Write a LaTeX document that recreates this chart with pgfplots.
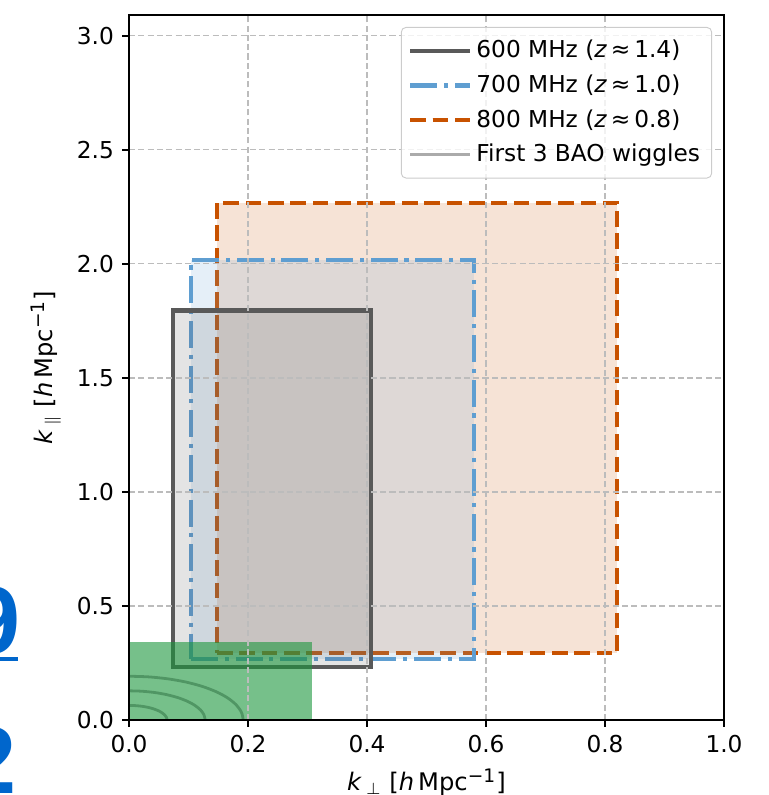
\documentclass[border=0pt]{standalone}
\usepackage{fontspec}
\setmainfont{DejaVu Sans}
\newfontfamily\bluefont{Liberation Sans}
\usepackage{pgfplots}
\pgfplotsset{compat=1.18}

\definecolor{cgray}{HTML}{595959}
\definecolor{cblue}{HTML}{5F9ED1}
\definecolor{corange}{HTML}{C85200}
\definecolor{clgray}{HTML}{ABABAB}
\definecolor{cgreen}{RGB}{27,150,60}
\definecolor{carc}{RGB}{80,150,100}
\definecolor{gridc}{RGB}{188,188,188}
\definecolor{webblue}{RGB}{0,102,204}

\begin{document}
\begin{tikzpicture}[x=0.43pt,y=0.43pt]
\useasboundingbox (-129,-75) rectangle (640,720);
\begin{axis}[
  at={(0,0)}, anchor=south west,
  scale only axis, width=255.85pt, height=303.15pt,
  xmin=0, xmax=1, ymin=0, ymax=3.092,
  xtick={0,0.2,0.4,0.6,0.8,1.0},
  ytick={0,0.5,1,1.5,2,2.5,3},
  /pgf/number format/assume math mode=true,
  xticklabel style={/pgf/number format/fixed, /pgf/number format/fixed zerofill, /pgf/number format/precision=1},
  yticklabel style={/pgf/number format/fixed, /pgf/number format/fixed zerofill, /pgf/number format/precision=1},
  tick label style={font=\fontsize{10}{12}\selectfont},
  label style={font=\fontsize{10.4}{12}\selectfont},
  tick align=outside, tick pos=left,
  major tick length=3pt,
  tick style={black, line width=0.8pt},
  axis line style={black, line width=0.8pt},
  grid=major,
  grid style={gridc, line width=0.45pt, dash pattern=on 2.6pt off 1.4pt},
  axis on top,
  xlabel={\textit{k}\,\textsubscript{$\perp$}\ [\textit{h}\,Mpc\textsuperscript{\fontsize{8}{8}\selectfont −1}]},
  ylabel={\textit{k}\,\textsubscript{$\parallel$}\ [\textit{h}\,Mpc\textsuperscript{\fontsize{8}{8}\selectfont −1}]},
  legend image code/.code={\draw[#1] (0pt,0pt) -- (21pt,0pt); \path (0pt,0pt) -- (25.5pt,0pt);},
  legend cell align=left,
  legend style={at={(0.98,0.983)}, anchor=north east, draw=black!20,
    rounded corners=2pt, fill=white, fill opacity=0.8, text opacity=1,
    font=\fontsize{10}{12}\selectfont, row sep=1.8pt,
    inner xsep=3pt, inner ysep=3.5pt},
]
\addlegendimage{cgray, line width=1.8pt}
\addlegendentry{600 MHz (\textit{z}\,≈\,1.4)}
\addlegendimage{cblue, line width=1.8pt, dash pattern=on 11.6pt off 2.9pt on 1.8pt off 2.9pt}
\addlegendentry{700 MHz (\textit{z}\,≈\,1.0)}
\addlegendimage{corange, line width=1.8pt, dash pattern=on 6.7pt off 2.9pt}
\addlegendentry{800 MHz (\textit{z}\,≈\,0.8)}
\addlegendimage{clgray, line width=1.2pt}
\addlegendentry{First 3 BAO wiggles}

% 800 MHz
\addplot[draw=corange, line width=1.8pt, dash pattern=on 6.7pt off 2.9pt,
  fill=corange, fill opacity=0.16, draw opacity=1, forget plot]
  coordinates {(0.148,0.295) (0.820,0.295) (0.820,2.269) (0.148,2.269)} -- cycle;
% 700 MHz
\addplot[draw=cblue, line width=1.8pt, dash pattern=on 11.6pt off 2.9pt on 1.8pt off 2.9pt,
  fill=cblue, fill opacity=0.16, draw opacity=1, forget plot]
  coordinates {(0.104,0.266) (0.580,0.266) (0.580,2.018) (0.104,2.018)} -- cycle;
% 600 MHz
\addplot[draw=cgray, line width=1.8pt,
  fill=cgray, fill opacity=0.16, draw opacity=1, forget plot]
  coordinates {(0.0734,0.231) (0.4067,0.231) (0.4067,1.796) (0.0734,1.796)} -- cycle;
% BAO region
\addplot[draw=none, fill=cgreen, fill opacity=0.6, forget plot]
  coordinates {(0,0) (0.307,0) (0.307,0.342) (0,0.342)} -- cycle;
\addplot[carc, line width=1.2pt, smooth, forget plot] coordinates {
 (0.064,0) (0.0630,0.0111) (0.0601,0.0219) (0.0554,0.032) (0.0490,0.0411)
 (0.0411,0.0490) (0.032,0.0554) (0.0219,0.0601) (0.0111,0.0630) (0,0.064)};
\addplot[carc, line width=1.2pt, smooth, forget plot] coordinates {
 (0.128,0) (0.1261,0.0222) (0.1203,0.0438) (0.1108,0.064) (0.0980,0.0823)
 (0.0823,0.0980) (0.064,0.1108) (0.0438,0.1203) (0.0222,0.1261) (0,0.128)};
\addplot[carc, line width=1.2pt, smooth, forget plot] coordinates {
 (0.192,0) (0.1891,0.0333) (0.1804,0.0657) (0.1663,0.096) (0.1471,0.1234)
 (0.1234,0.1471) (0.096,0.1663) (0.0657,0.1804) (0.0333,0.1891) (0,0.192)};
\end{axis}
\begin{scope}
\clip (-129,-75) rectangle (640,720);
\node[anchor=base east, inner sep=0pt, text=webblue, font=\bluefont\bfseries\fontsize{41}{41}\selectfont] at (-108,67) {9};
\node[anchor=base east, inner sep=0pt, text=webblue, font=\bluefont\bfseries\fontsize{41}{41}\selectfont] at (-112,-73) {2};
\fill[webblue] (-131,59) rectangle (-111,63);
\end{scope}
\end{tikzpicture}
\end{document}
